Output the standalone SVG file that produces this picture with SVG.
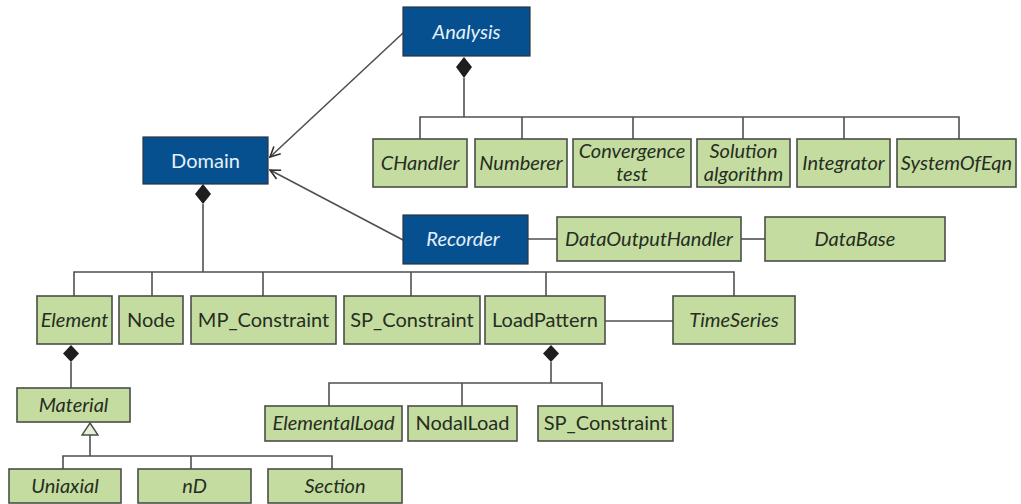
<svg xmlns="http://www.w3.org/2000/svg" width="1021" height="504" viewBox="0 0 1021 504">
<defs>
<style>
.blue{fill:#07508f;stroke:#2a3440;stroke-width:1.2}
.green{fill:#c4dc9f;stroke:#4a4f48;stroke-width:1.6}
.t{font-family:"Lato","Liberation Sans",sans-serif;font-size:20px;fill:#262d23;text-anchor:middle}
.w{fill:#e4f1fb}
.i{font-style:italic}
.ln{fill:none;stroke:#505050;stroke-width:1.6}
.dia{fill:#1e1e1e}
</style>
<marker id="open" viewBox="0 0 12 12" refX="11" refY="6" markerWidth="12" markerHeight="12" markerUnits="userSpaceOnUse" orient="auto">
<path d="M1,1 L11,6 L1,11" fill="none" stroke="#303030" stroke-width="1.6"/>
</marker>
</defs>
<rect width="1021" height="504" fill="#ffffff"/>
<g id="connectors">
<line class="ln" x1="403" y1="33" x2="270" y2="157" marker-end="url(#open)"/>
<line class="ln" x1="403" y1="240" x2="270" y2="170" marker-end="url(#open)"/>
<polyline class="ln" points="464,78 464,117"/>
<polyline class="ln" points="420,139 420,117 959,117 959,139"/>
<line class="ln" x1="522" y1="117" x2="522" y2="139"/>
<line class="ln" x1="633" y1="117" x2="633" y2="139"/>
<line class="ln" x1="743" y1="117" x2="743" y2="139"/>
<line class="ln" x1="844" y1="117" x2="844" y2="139"/>
<line class="ln" x1="520" y1="239" x2="557" y2="239"/>
<line class="ln" x1="741" y1="239" x2="765" y2="239"/>
<polyline class="ln" points="203,204 203,272"/>
<polyline class="ln" points="74,296 74,272 734,272 734,296"/>
<line class="ln" x1="152" y1="272" x2="152" y2="296"/>
<line class="ln" x1="263" y1="272" x2="263" y2="296"/>
<line class="ln" x1="411" y1="272" x2="411" y2="296"/>
<line class="ln" x1="546" y1="272" x2="546" y2="296"/>
<line class="ln" x1="605" y1="321" x2="673" y2="321"/>
<polyline class="ln" points="71,362 71,388"/>
<polyline class="ln" points="551,362 551,383"/>
<polyline class="ln" points="329,406 329,383 602,383 602,406"/>
<line class="ln" x1="462" y1="383" x2="462" y2="406"/>
<polyline class="ln" points="90,434 90,456"/>
<polyline class="ln" points="63,469 63,456 332,456 332,469"/>
<line class="ln" x1="191" y1="456" x2="191" y2="469"/>
<path class="dia" d="M464,57 L472,67 L464,78 L456,67 Z"/>
<path class="dia" d="M203,184 L211,194 L203,204 L195,194 Z"/>
<path class="dia" d="M71,345 L79,353.5 L71,362 L63,353.5 Z"/>
<path class="dia" d="M551,345 L559,353.5 L551,362 L543,353.5 Z"/>
<path d="M90,423 L98,435 L82,435 Z" fill="#e6f0d8" stroke="#4a4f48" stroke-width="1.4"/>
</g>
<g id="analysis"><rect class="blue" x="403" y="7" width="127" height="49"/><text class="t w i" x="466.5" y="39">Analysis</text></g>
<g id="domain"><rect class="blue" x="143" y="137" width="125" height="47"/><text class="t w" x="205.5" y="168">Domain</text></g>
<g id="recorder"><rect class="blue" x="403" y="215" width="125" height="49"/><text class="t w i" x="463" y="246">Recorder</text></g>
<g id="chandler"><rect class="green" x="373" y="139" width="94" height="48"/><text class="t i" x="420" y="170">CHandler</text></g>
<g id="numberer"><rect class="green" x="475" y="139" width="92" height="48"/><text class="t i" x="521" y="170">Numberer</text></g>
<g id="convergence"><rect class="green" x="573" y="139" width="118" height="48"/><text class="t i" x="632" y="158">Convergence</text><text class="t i" x="632" y="181">test</text></g>
<g id="solution"><rect class="green" x="697" y="139" width="93" height="48"/><text class="t i" x="743.5" y="158">Solution</text><text class="t i" x="743.5" y="181">algorithm</text></g>
<g id="integrator"><rect class="green" x="797" y="139" width="93" height="48"/><text class="t i" x="843.5" y="170">Integrator</text></g>
<g id="systemofeqn"><rect class="green" x="897" y="139" width="119" height="48"/><text class="t i" x="956.5" y="170">SystemOfEqn</text></g>
<g id="dataoutputhandler"><rect class="green" x="557" y="217" width="184" height="44"/><text class="t i" x="649" y="246">DataOutputHandler</text></g>
<g id="database"><rect class="green" x="765" y="217" width="180" height="44"/><text class="t i" x="855" y="246">DataBase</text></g>
<g id="element"><rect class="green" x="37" y="296" width="75" height="48"/><text class="t i" x="74.5" y="327">Element</text></g>
<g id="node"><rect class="green" x="119" y="296" width="64" height="48"/><text class="t" x="151" y="327">Node</text></g>
<g id="mp_constraint"><rect class="green" x="191" y="296" width="145" height="48"/><text class="t" x="263.5" y="327">MP_Constraint</text></g>
<g id="sp_constraint"><rect class="green" x="344" y="296" width="136" height="48"/><text class="t" x="412" y="327">SP_Constraint</text></g>
<g id="loadpattern"><rect class="green" x="485" y="296" width="120" height="48"/><text class="t" x="545" y="327">LoadPattern</text></g>
<g id="timeseries"><rect class="green" x="673" y="296" width="122" height="48"/><text class="t i" x="734" y="327">TimeSeries</text></g>
<g id="material"><rect class="green" x="17" y="388" width="113" height="34"/><text class="t i" x="73.5" y="412">Material</text></g>
<g id="elementalload"><rect class="green" x="265" y="406" width="137" height="35"/><text class="t i" x="333.5" y="430">ElementalLoad</text></g>
<g id="nodalload"><rect class="green" x="408" y="406" width="109" height="35"/><text class="t" x="462.5" y="430">NodalLoad</text></g>
<g id="sp_constraint2"><rect class="green" x="538" y="406" width="135" height="35"/><text class="t" x="605.5" y="430">SP_Constraint</text></g>
<g id="uniaxial"><rect class="green" x="9" y="469" width="112" height="34"/><text class="t i" x="65" y="493">Uniaxial</text></g>
<g id="nd"><rect class="green" x="138" y="469" width="113" height="34"/><text class="t i" x="194.5" y="493">nD</text></g>
<g id="section"><rect class="green" x="268" y="469" width="134" height="34"/><text class="t i" x="335" y="493">Section</text></g>
</svg>
